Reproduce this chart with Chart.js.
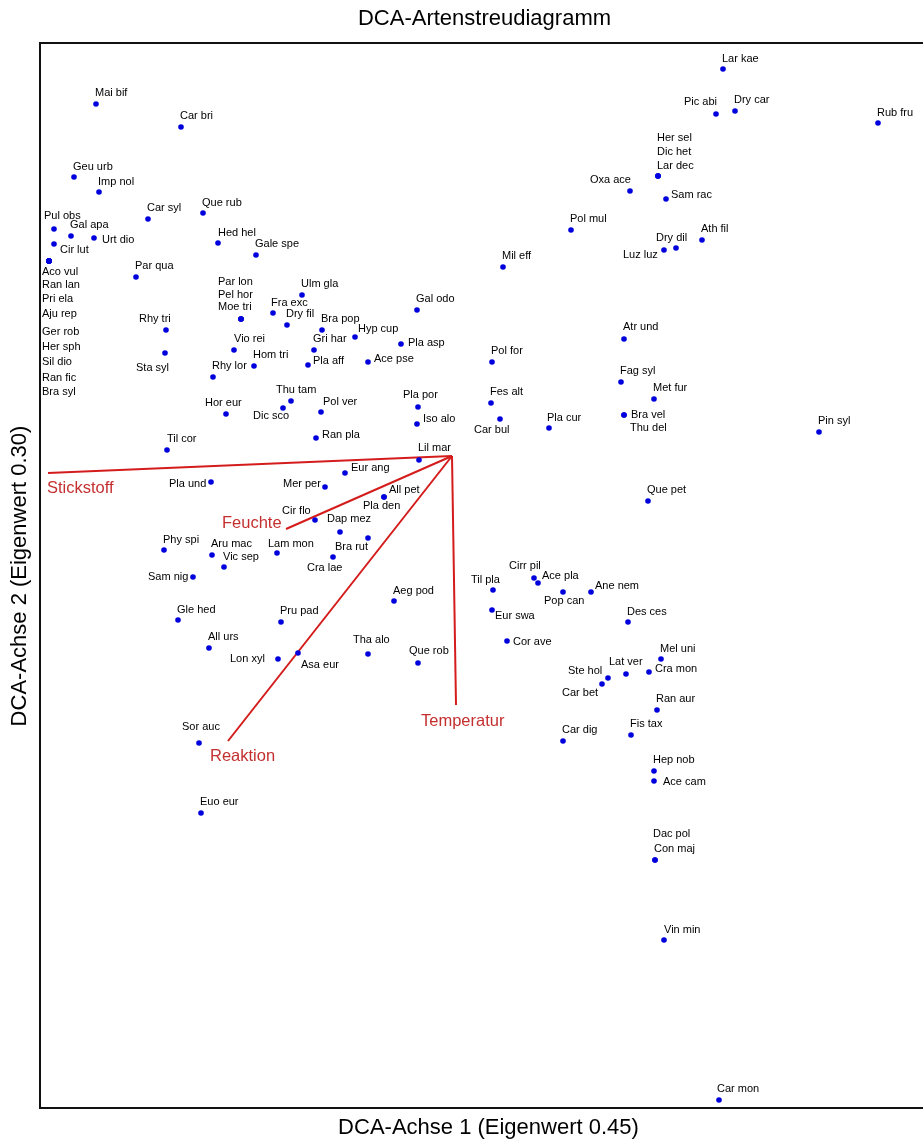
<!DOCTYPE html>
<html>
<head>
<meta charset="utf-8">
<title>DCA-Artenstreudiagramm</title>
<script src="https://cdn.jsdelivr.net/npm/chart.js@4.4.1/dist/chart.umd.min.js"></script>
<style>
    html, body { margin: 0; padding: 0; background: #fff; overflow: hidden; }
    #wrap { position: relative; width: 923px; height: 1141px; }
</style>
</head>
<body>
<div id="wrap"><canvas id="dcaChart"></canvas></div>
<script>
// Arten (Kürzel) und ihre Werte auf DCA-Achse 1 / 2
const speciesNames = [
    'Mai bif', 'Car bri', 'Geu urb', 'Imp nol', 'Car syl', 'Que rub', 'Pul obs', 'Gal apa', 'Urt dio', 'Cir lut',
    'Aco vul', 'Ran lan', 'Pri ela', 'Aju rep', 'Ger rob', 'Her sph', 'Sil dio', 'Ran fic', 'Bra syl',
    'Par qua', 'Hed hel', 'Gale spe', 'Par lon', 'Pel hor', 'Moe tri', 'Ulm gla', 'Fra exc', 'Dry fil', 'Bra pop',
    'Rhy tri', 'Sta syl', 'Vio rei', 'Gri har', 'Hom tri', 'Rhy lor', 'Pla aff', 'Hyp cup', 'Pla asp', 'Ace pse',
    'Gal odo', 'Mil eff', 'Pol mul', 'Oxa ace', 'Lar kae', 'Pic abi', 'Dry car', 'Rub fru', 'Her sel', 'Dic het',
    'Lar dec', 'Sam rac', 'Ath fil', 'Dry dil', 'Luz luz', 'Atr und', 'Fag syl', 'Met fur', 'Bra vel', 'Thu del',
    'Pin syl', 'Que pet', 'Pol for', 'Fes alt', 'Car bul', 'Pla cur', 'Pla por', 'Iso alo', 'Lil mar', 'Eur ang',
    'All pet', 'Pla den', 'Dap mez', 'Bra rut', 'Cra lae', 'Mer per', 'Pla und', 'Til cor', 'Hor eur', 'Thu tam',
    'Dic sco', 'Pol ver', 'Ran pla', 'Cir flo', 'Phy spi', 'Aru mac', 'Vic sep', 'Lam mon', 'Sam nig', 'Gle hed',
    'Pru pad', 'All urs', 'Lon xyl', 'Asa eur', 'Sor auc', 'Euo eur', 'Aeg pod', 'Tha alo', 'Que rob', 'Til pla',
    'Eur swa', 'Cor ave', 'Cirr pil', 'Ace pla', 'Pop can', 'Ane nem', 'Des ces', 'Ste hol', 'Car bet', 'Lat ver',
    'Cra mon', 'Mel uni', 'Ran aur', 'Fis tax', 'Car dig', 'Hep nob', 'Ace cam', 'Dac pol', 'Con maj', 'Vin min',
    'Car mon'
];
const axis1 = [
    0.56, 1.41, 0.34, 0.59, 1.08, 1.63, 0.14, 0.31, 0.54, 0.14,
    0.09, 0.09, 0.09, 0.09, 0.09, 0.09, 0.09, 0.09, 0.09,
    0.96, 1.78, 2.16, 2.01, 2.01, 2.01, 2.62, 2.33, 2.47, 2.82,
    1.26, 1.25, 1.94, 2.74, 2.14, 1.73, 2.68, 3.15, 3.61, 3.28,
    3.77, 4.63, 5.31, 5.90, 6.83, 6.76, 6.95, 8.38, 6.18, 6.18,
    6.18, 6.26, 6.62, 6.36, 6.24, 5.84, 5.81, 6.14, 5.84, 5.84,
    7.79, 6.08, 4.52, 4.51, 4.60, 5.09, 3.78, 3.77, 3.79, 3.05,
    3.44, 3.44, 3.00, 3.28, 2.93, 2.85, 1.71, 1.27, 1.86, 2.51,
    2.43, 2.81, 2.76, 2.75, 1.24, 1.72, 1.84, 2.37, 1.53, 1.38,
    2.41, 1.69, 2.38, 2.58, 1.59, 1.61, 3.54, 3.28, 3.78, 4.53,
    4.52, 4.67, 4.94, 4.98, 5.23, 5.51, 5.88, 5.68, 5.62, 5.86,
    6.09, 6.21, 6.17, 5.91, 5.23, 6.14, 6.14, 6.15, 6.15, 6.24,
    6.79
];
const axis2 = [
    10.04, 9.81, 9.31, 9.16, 8.89, 8.95, 8.79, 8.72, 8.70, 8.64,
    8.47, 8.47, 8.47, 8.47, 8.47, 8.47, 8.47, 8.47, 8.47,
    8.31, 8.65, 8.53, 7.89, 7.89, 7.89, 8.13, 7.95, 7.83, 7.78,
    7.78, 7.55, 7.58, 7.58, 7.42, 7.31, 7.43, 7.71, 7.64, 7.46,
    7.98, 8.41, 8.78, 9.17, 10.39, 9.94, 9.97, 9.85, 9.32, 9.32,
    9.32, 9.09, 8.68, 8.60, 8.58, 7.69, 7.26, 7.09, 6.93, 6.93,
    6.76, 6.07, 7.46, 7.05, 6.89, 6.80, 7.01, 6.84, 6.48, 6.35,
    6.11, 6.11, 5.76, 5.70, 5.51, 6.21, 6.26, 6.58, 6.94, 7.07,
    7.00, 6.96, 6.70, 5.88, 5.58, 5.53, 5.41, 5.55, 5.31, 4.88,
    4.86, 4.60, 4.49, 4.55, 3.65, 2.95, 5.07, 4.54, 4.45, 5.18,
    4.98, 4.67, 5.30, 5.25, 5.16, 5.16, 4.86, 4.30, 4.24, 4.34,
    4.36, 4.49, 3.98, 3.73, 3.67, 3.37, 3.27, 2.48, 2.48, 1.68,
    0.08
];

// Umweltvariablen (Vektoren vom gemeinsamen Ursprung aus)
const envNames = ['Stickstoff', 'Feuchte', 'Reaktion', 'Temperatur'];
const envOrigin = [4.12, 6.52];
const envAxis1 = [0.08, 2.46, 1.88, 4.16];
const envAxis2 = [6.35, 5.79, 3.67, 4.03];

// Achsenbereiche
const axis1Range = [0, 8.83];
const axis2Range = [0, 10.64];

// Lage der Beschriftungen (px, relativ zum Punkt)
const labelOffsets = [
    [-1, -11], [-1, -11], [-1, -10], [-1, -10], [-1, -11], [-1, -10], [-10, -13], [-1, -11], [8, 2], [6, 6],
    [-7, 11], [-7, 24], [-7, 38], [-7, 53], [-7, 71], [-7, 86], [-7, 101], [-7, 117], [-7, 131],
    [-1, -11], [0, -10], [-1, -11], [-23, -37], [-23, -24], [-23, -12], [-1, -11], [-2, -10], [-1, -11], [-1, -11],
    [-27, -11], [-29, 15], [0, -11], [-1, -11], [-1, -11], [-1, -11], [5, -4], [3, -8], [7, -1], [6, -3],
    [-1, -11], [-1, -11], [-1, -11], [-40, -11], [-1, -10], [-32, -12], [-1, -11], [-1, -10], [-1, -38], [-1, -24],
    [-1, -10], [5, -4], [-1, -11], [-20, -10], [-41, 5], [-1, -12], [-1, -11], [-1, -11], [7, 0], [6, 13],
    [-1, -11], [-1, -11], [-1, -11], [-1, -11], [-26, 11], [-2, -10], [-15, -12], [6, -5], [-1, -12], [6, -5],
    [5, -7], [-21, 9], [-13, -13], [-33, 9], [-26, 11], [-42, -3], [-42, 2], [0, -11], [-21, -11], [-15, -11],
    [-30, 8], [2, -10], [6, -3], [-33, -9], [-1, -10], [-1, -11], [-1, -10], [-9, -9], [-45, 0], [-1, -10],
    [-1, -11], [-1, -11], [-48, 0], [3, 12], [-17, -16], [-1, -11], [-1, -10], [-15, -14], [-9, -12], [-22, -10],
    [3, 6], [6, 1], [-25, -12], [4, -7], [-19, 9], [4, -6], [-1, -10], [-40, -7], [-40, 9], [-17, -12],
    [6, -3], [-1, -10], [-1, -11], [-1, -11], [-1, -11], [-1, -11], [9, 1], [-2, -26], [-1, -11], [0, -10],
    [-2, -11]
];
const envLabelOffsets = [[-1, 15], [-64, -6], [-18, 15], [-35, 16]];

const FONT = '"Liberation Sans", Arial, sans-serif';
const ENV_RED = '#d41c1c';

const speciesPoints = speciesNames.map((n, i) => ({ x: axis1[i], y: axis2[i] }));

const envDatasets = envNames.map((n, i) => ({
    label: n,
    data: [{ x: envOrigin[0], y: envOrigin[1] }, { x: envAxis1[i], y: envAxis2[i] }],
    showLine: true,
    borderColor: ENV_RED,
    borderWidth: 2,
    pointRadius: 0,
    fill: false
}));

// Beschriftungen, Rahmen und Titel
const annotatePlugin = {
    id: 'annotate',
    afterDatasetsDraw(chart) {
        const ctx = chart.ctx;
        const area = chart.chartArea;
        ctx.save();
        ctx.textBaseline = 'middle';
        ctx.textAlign = 'left';

        // Artnamen
        ctx.font = '11px ' + FONT;
        ctx.fillStyle = '#000';
        chart.getDatasetMeta(0).data.forEach((pt, i) => {
            const off = labelOffsets[i];
            ctx.fillText(speciesNames[i], pt.x + off[0], pt.y + off[1]);
        });

        // Vektornamen
        ctx.font = '16.5px ' + FONT;
        ctx.fillStyle = '#c43030';
        envNames.forEach((n, i) => {
            const end = chart.getDatasetMeta(i + 1).data[1];
            const off = envLabelOffsets[i];
            ctx.fillText(n, end.x + off[0], end.y + off[1]);
        });

        // Rahmen (rechts abgeschnitten)
        ctx.strokeStyle = '#111';
        ctx.lineWidth = 2;
        ctx.beginPath();
        ctx.moveTo(area.right, area.top - 1);
        ctx.lineTo(area.left, area.top - 1);
        ctx.lineTo(area.left, area.bottom);
        ctx.lineTo(area.right, area.bottom);
        ctx.stroke();

        // Titel und Achsentitel
        ctx.fillStyle = '#000';
        ctx.textAlign = 'center';
        ctx.font = '22px ' + FONT;
        ctx.fillText('DCA-Artenstreudiagramm', (area.left + area.right) / 2 + 3, 19);
        ctx.fillText('DCA-Achse 1 (Eigenwert 0.45)', (area.left + area.right) / 2 + 7, area.bottom + 20);
        ctx.translate(20, (area.top + area.bottom) / 2);
        ctx.rotate(-Math.PI / 2);
        ctx.fillText('DCA-Achse 2 (Eigenwert 0.30)', 0, 0);
        ctx.restore();
    }
};

document.addEventListener('DOMContentLoaded', function () {
    const ctx = document.getElementById('dcaChart').getContext('2d');
    new Chart(ctx, {
        type: 'scatter',
        data: {
            datasets: [{
                label: 'Arten',
                data: speciesPoints,
                backgroundColor: '#0000dd',
                borderWidth: 0,
                pointRadius: 2.8,
                pointHoverRadius: 3.5
            }].concat(envDatasets)
        },
        options: {
            responsive: true,
            maintainAspectRatio: false,
            animation: false,
            devicePixelRatio: 1,
            layout: { autoPadding: false, padding: { left: 40, top: 44, right: 0, bottom: 33 } },
            plugins: {
                legend: { display: false },
                title: { display: false },
                tooltip: {
                    filter: item => item.datasetIndex === 0,
                    callbacks: {
                        label: function (context) {
                            return speciesNames[context.dataIndex];
                        }
                    }
                }
            },
            scales: {
                x: { type: 'linear', display: false, min: axis1Range[0], max: axis1Range[1] },
                y: { type: 'linear', display: false, min: axis2Range[0], max: axis2Range[1] }
            }
        },
        plugins: [annotatePlugin]
    });
});
</script>
</body>
</html>
